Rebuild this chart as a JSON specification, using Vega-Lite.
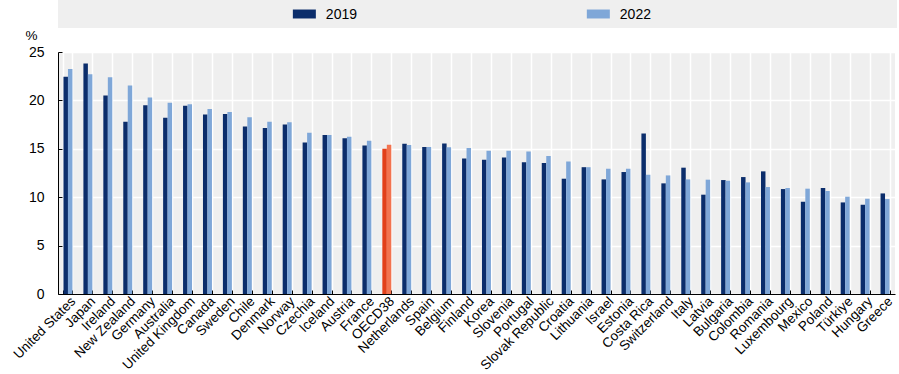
{
  "$schema": "https://vega.github.io/schema/vega-lite/v6.json",
  "padding": {"left": 10, "top": 0, "right": 0, "bottom": 0},
  "background": "white",
  "config": {"font": "Liberation Sans", "view": {"stroke": null}},
  "spacing": 24,
  "bounds": "flush",
  "resolve": {"scale": {"color": "independent", "x": "independent"}},
  "vconcat": [
    {
      "width": 839,
      "height": 28,
      "view": {"fill": "#EFEFEF", "stroke": null},
      "data": {"values": [{"yr": "2019"}, {"yr": "2022"}]},
      "encoding": {
        "x": {"field": "yr", "type": "nominal", "scale": {"type": "point", "padding": 0.927, "align": 0.452}, "axis": null}
      },
      "layer": [
        {
          "mark": {"type": "point", "shape": "M-1,-0.39H1V0.39H-1Z", "filled": true, "size": 529, "opacity": 1, "strokeWidth": 0},
          "encoding": {
            "color": {"field": "yr", "type": "nominal", "scale": {"domain": ["2019", "2022"], "range": ["#0B2D6B", "#7FA7D8"]}, "legend": null}
          }
        },
        {
          "mark": {"type": "text", "align": "left", "dx": 21.5, "dy": 0.5, "fontSize": 14, "baseline": "middle", "color": "#000"},
          "encoding": {"text": {"field": "yr"}}
        }
      ]
    },
    {
      "width": 837,
      "height": 242,
      "view": {"fill": "#EFEFEF", "stroke": null},
      "data": {"values": [
        {"country": "United States", "year": "2019", "series": "2019", "value": 22.45},
        {"country": "United States", "year": "2022", "series": "2022", "value": 23.24},
        {"country": "Japan", "year": "2019", "series": "2019", "value": 23.8},
        {"country": "Japan", "year": "2022", "series": "2022", "value": 22.7},
        {"country": "Ireland", "year": "2019", "series": "2019", "value": 20.5},
        {"country": "Ireland", "year": "2022", "series": "2022", "value": 22.4},
        {"country": "New Zealand", "year": "2019", "series": "2019", "value": 17.8},
        {"country": "New Zealand", "year": "2022", "series": "2022", "value": 21.55},
        {"country": "Germany", "year": "2019", "series": "2019", "value": 19.5},
        {"country": "Germany", "year": "2022", "series": "2022", "value": 20.3},
        {"country": "Australia", "year": "2019", "series": "2019", "value": 18.2},
        {"country": "Australia", "year": "2022", "series": "2022", "value": 19.76},
        {"country": "United Kingdom", "year": "2019", "series": "2019", "value": 19.45},
        {"country": "United Kingdom", "year": "2022", "series": "2022", "value": 19.6},
        {"country": "Canada", "year": "2019", "series": "2019", "value": 18.55},
        {"country": "Canada", "year": "2022", "series": "2022", "value": 19.1},
        {"country": "Sweden", "year": "2019", "series": "2019", "value": 18.6},
        {"country": "Sweden", "year": "2022", "series": "2022", "value": 18.8},
        {"country": "Chile", "year": "2019", "series": "2019", "value": 17.3},
        {"country": "Chile", "year": "2022", "series": "2022", "value": 18.25},
        {"country": "Denmark", "year": "2019", "series": "2019", "value": 17.15},
        {"country": "Denmark", "year": "2022", "series": "2022", "value": 17.8},
        {"country": "Norway", "year": "2019", "series": "2019", "value": 17.5},
        {"country": "Norway", "year": "2022", "series": "2022", "value": 17.75},
        {"country": "Czechia", "year": "2019", "series": "2019", "value": 15.66},
        {"country": "Czechia", "year": "2022", "series": "2022", "value": 16.66},
        {"country": "Iceland", "year": "2019", "series": "2019", "value": 16.42},
        {"country": "Iceland", "year": "2022", "series": "2022", "value": 16.42},
        {"country": "Austria", "year": "2019", "series": "2019", "value": 16.08},
        {"country": "Austria", "year": "2022", "series": "2022", "value": 16.25},
        {"country": "France", "year": "2019", "series": "2019", "value": 15.35},
        {"country": "France", "year": "2022", "series": "2022", "value": 15.84},
        {"country": "OECD38", "year": "2019", "series": "OECD38 2019", "value": 15.01},
        {"country": "OECD38", "year": "2022", "series": "OECD38 2022", "value": 15.42},
        {"country": "Netherlands", "year": "2019", "series": "2019", "value": 15.53},
        {"country": "Netherlands", "year": "2022", "series": "2022", "value": 15.39},
        {"country": "Spain", "year": "2019", "series": "2019", "value": 15.18},
        {"country": "Spain", "year": "2022", "series": "2022", "value": 15.18},
        {"country": "Belgium", "year": "2019", "series": "2019", "value": 15.56},
        {"country": "Belgium", "year": "2022", "series": "2022", "value": 15.15},
        {"country": "Finland", "year": "2019", "series": "2019", "value": 14.01},
        {"country": "Finland", "year": "2022", "series": "2022", "value": 15.08},
        {"country": "Korea", "year": "2019", "series": "2019", "value": 13.87},
        {"country": "Korea", "year": "2022", "series": "2022", "value": 14.8},
        {"country": "Slovenia", "year": "2019", "series": "2019", "value": 14.11},
        {"country": "Slovenia", "year": "2022", "series": "2022", "value": 14.8},
        {"country": "Portugal", "year": "2019", "series": "2019", "value": 13.6},
        {"country": "Portugal", "year": "2022", "series": "2022", "value": 14.73},
        {"country": "Slovak Republic", "year": "2019", "series": "2019", "value": 13.53},
        {"country": "Slovak Republic", "year": "2022", "series": "2022", "value": 14.26},
        {"country": "Croatia", "year": "2019", "series": "2019", "value": 11.91},
        {"country": "Croatia", "year": "2022", "series": "2022", "value": 13.7},
        {"country": "Lithuania", "year": "2019", "series": "2019", "value": 13.1},
        {"country": "Lithuania", "year": "2022", "series": "2022", "value": 13.1},
        {"country": "Israel", "year": "2019", "series": "2019", "value": 11.84},
        {"country": "Israel", "year": "2022", "series": "2022", "value": 12.94},
        {"country": "Estonia", "year": "2019", "series": "2019", "value": 12.6},
        {"country": "Estonia", "year": "2022", "series": "2022", "value": 12.94},
        {"country": "Costa Rica", "year": "2019", "series": "2019", "value": 16.59},
        {"country": "Costa Rica", "year": "2022", "series": "2022", "value": 12.32},
        {"country": "Switzerland", "year": "2019", "series": "2019", "value": 11.43},
        {"country": "Switzerland", "year": "2022", "series": "2022", "value": 12.25},
        {"country": "Italy", "year": "2019", "series": "2019", "value": 13.05},
        {"country": "Italy", "year": "2022", "series": "2022", "value": 11.84},
        {"country": "Latvia", "year": "2019", "series": "2019", "value": 10.26},
        {"country": "Latvia", "year": "2022", "series": "2022", "value": 11.81},
        {"country": "Bulgaria", "year": "2019", "series": "2019", "value": 11.77},
        {"country": "Bulgaria", "year": "2022", "series": "2022", "value": 11.7},
        {"country": "Colombia", "year": "2019", "series": "2019", "value": 12.08},
        {"country": "Colombia", "year": "2022", "series": "2022", "value": 11.53},
        {"country": "Romania", "year": "2019", "series": "2019", "value": 12.67},
        {"country": "Romania", "year": "2022", "series": "2022", "value": 11.05},
        {"country": "Luxembourg", "year": "2019", "series": "2019", "value": 10.84},
        {"country": "Luxembourg", "year": "2022", "series": "2022", "value": 10.95},
        {"country": "Mexico", "year": "2019", "series": "2019", "value": 9.53},
        {"country": "Mexico", "year": "2022", "series": "2022", "value": 10.88},
        {"country": "Poland", "year": "2019", "series": "2019", "value": 10.95},
        {"country": "Poland", "year": "2022", "series": "2022", "value": 10.64},
        {"country": "Türkiye", "year": "2019", "series": "2019", "value": 9.46},
        {"country": "Türkiye", "year": "2022", "series": "2022", "value": 10.05},
        {"country": "Hungary", "year": "2019", "series": "2019", "value": 9.22},
        {"country": "Hungary", "year": "2022", "series": "2022", "value": 9.84},
        {"country": "Greece", "year": "2019", "series": "2019", "value": 10.39},
        {"country": "Greece", "year": "2022", "series": "2022", "value": 9.81}
      ]},
      "mark": {"type": "bar"},
      "encoding": {
        "x": {
          "field": "country", "type": "nominal", "sort": null,
          "scale": {"paddingInner": 0.55, "paddingOuter": 0.275},
          "axis": {
            "title": null, "labelAngle": -45, "labelAlign": "right", "labelBaseline": "top",
            "labelFontSize": 13.5, "labelColor": "#000", "labelPadding": 4, "labelLimit": 200,
            "tickBand": "extent", "tickSize": -4, "tickColor": "#000", "domainColor": "#000",
            "grid": true, "gridColor": "#FFFFFF", "gridWidth": 1.5
          }
        },
        "xOffset": {"field": "year", "type": "nominal"},
        "y": {
          "field": "value", "type": "quantitative",
          "scale": {"domain": [0, 25]},
          "axis": {
            "title": "%", "titleAngle": 0, "titleAlign": "left", "titleBaseline": "alphabetic",
            "titleX": -33, "titleY": -13, "titleFontSize": 13.5, "titleFontWeight": "normal", "titleColor": "#000",
            "values": [0, 5, 10, 15, 20, 25], "tickSize": -4, "labelPadding": 18,
            "labelFontSize": 14, "labelColor": "#000", "tickColor": "#000", "domainColor": "#000",
            "grid": true, "gridColor": "#FFFFFF", "gridWidth": 1.5
          }
        },
        "color": {
          "field": "series", "type": "nominal",
          "scale": {"domain": ["2019", "2022", "OECD38 2019", "OECD38 2022"], "range": ["#0B2D6B", "#7FA7D8", "#E2401A", "#F2734F"]},
          "legend": null
        }
      }
    }
  ]
}
